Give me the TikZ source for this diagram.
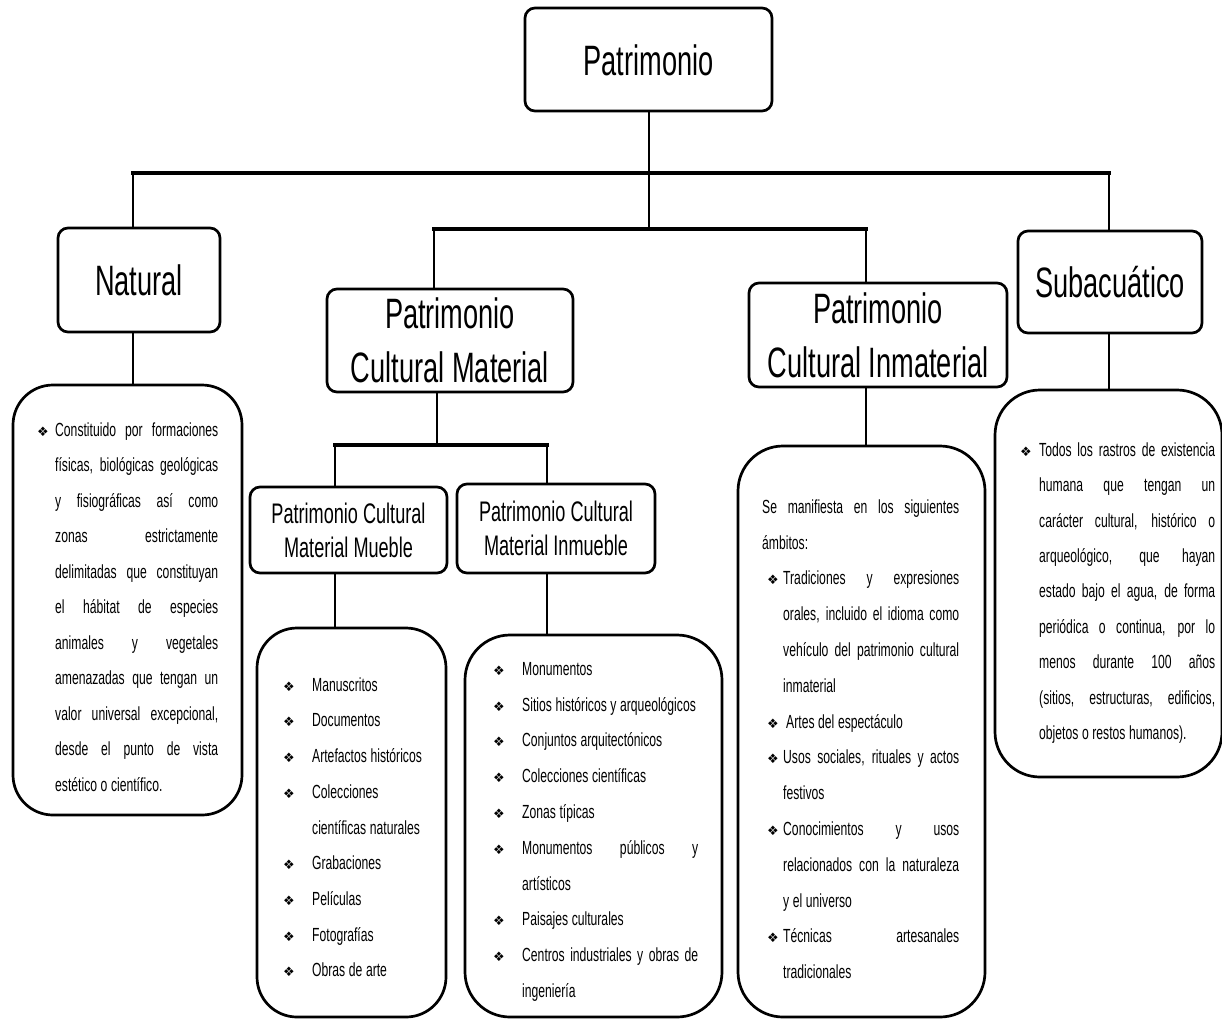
\documentclass[tikz,border=0pt]{standalone}
\usepackage{fontspec}
\setmainfont{Liberation Sans}[FakeStretch=0.64]
\newfontfamily\symf{DejaVu Sans}
\newlength\preW \newlength\indW \newlength\colW
\newcommand\bul{{\symf\fontsize{13}{13}\selectfont ❖}}
\newcommand\JS{\spaceskip=3.4pt plus 1fil\relax}
\newcommand\NS{\spaceskip=3.6pt\relax}
\newcommand\BJ[1]{\hspace*{\preW}\makebox[\indW][l]{\bul}\makebox[\colW][s]{\JS #1}}
\newcommand\BL[1]{\hspace*{\preW}\makebox[\indW][l]{\bul}\mbox{\NS #1}}
\newcommand\LJ[1]{\hspace*{\preW}\hspace*{\indW}\makebox[\colW][s]{\JS #1}}
\newcommand\LL[1]{\hspace*{\preW}\hspace*{\indW}\mbox{\NS #1}}
\newcommand\FS{\rule{0pt}{20pt}}
\tikzset{
  tbox/.style={draw, line width=2.7pt, rounded corners=10pt, inner sep=0pt},
  dbox/.style={draw, line width=2.7pt, rounded corners=40pt, inner sep=0pt},
  conn/.style={line width=2pt},
  bar/.style={line width=3.8pt, line cap=rect},
  barshadow/.style={line width=4pt, black!18, yshift=-3pt},
  big/.style={font=\fontsize{42.5}{54}\selectfont, text height=31pt, text depth=0pt},
  bigc/.style={font=\fontsize{42.5}{54}\selectfont, align=center},
  midc/.style={font=\fontsize{28.3}{34}\selectfont, align=center},
  txt/.style={anchor=north west, inner sep=0pt, align=left}
}
\begin{document}
\begin{tikzpicture}[x=1pt,y=-1pt]
\useasboundingbox (0,0) rectangle (1222,1020);
\fill[white] (0,0) rectangle (1222,1020);

% title boxes
\node[tbox, big, minimum width=247pt, minimum height=103pt] (root) at (648.5,59.5) {Patrimonio};
\node[tbox, big, minimum width=162pt, minimum height=104pt] (nat) at (139,280) {Natural};
\node[tbox, big, minimum width=184pt, minimum height=102pt] (sub) at (1110,282) {Subacuático};
\node[tbox, bigc, minimum width=246pt, minimum height=103pt] (pcm) at (450,340.5) {Patrimonio\\Cultural Material};
\node[tbox, bigc, minimum width=258pt, minimum height=104pt] (pci) at (878,335) {Patrimonio\\Cultural Inmaterial};
\node[tbox, midc, minimum width=197pt, minimum height=86pt] (pcmm) at (348.5,530) {Patrimonio Cultural\\Material Mueble};
\node[tbox, midc, minimum width=198pt, minimum height=89pt] (pcmi) at (556,528.5) {Patrimonio Cultural\\Material Inmueble};

% description boxes
\node[dbox, minimum width=229pt, minimum height=430pt] (natd) at (127.5,600) {};
\node[dbox, minimum width=189pt, minimum height=389pt] (pcmml) at (351.5,822.5) {};
\node[dbox, rounded corners=45pt, minimum width=257pt, minimum height=382pt] (pcmil) at (593.5,826) {};
\node[dbox, rounded corners=45pt, minimum width=247pt, minimum height=571pt] (pcid) at (861.5,731.5) {};
\node[dbox, rounded corners=45pt, minimum width=227pt, minimum height=387pt] (subd) at (1108.5,583.5) {};

% connectors
\coordinate (b1L) at (133,173);
\coordinate (b1R) at (1109,173);
\coordinate (b2L) at (434,229);
\coordinate (b2R) at (866,229);
\coordinate (b3L) at (335,445);
\coordinate (b3R) at (547,445);
\coordinate (b3M) at (437,445);

\draw[barshadow] (b1L) -- (b1R);
\draw[barshadow] (b2L) -- (b2R);
\draw[barshadow] (b3L) -- (b3R);
\draw[bar] (b1L) -- (b1R);
\draw[bar] (b2L) -- (b2R);
\draw[bar] (b3L) -- (b3R);
\draw[conn] (root.south) -- (root.south |- b2L);
\draw[conn] (b1L) -- (b1L |- nat.north);
\draw[conn] (b1R) -- (b1R |- sub.north);
\draw[conn] (b2L) -- (b2L |- pcm.north);
\draw[conn] (b2R) -- (b2R |- pci.north);
\draw[conn] (b3M |- pcm.south) -- (b3M);
\draw[conn] (b3L) -- (b3L |- pcmm.north);
\draw[conn] (b3R) -- (b3R |- pcmi.north);
\draw[conn] (b3L |- pcmm.south) -- (b3L |- pcmml.north);
\draw[conn] (b3R |- pcmi.south) -- (b3R |- pcmil.north);
\draw[conn] (b1L |- nat.south) -- (b1L |- natd.north);
\draw[conn] (b2R |- pci.south) -- (b2R |- pcid.north);
\draw[conn] (b1R |- sub.south) -- (b1R |- subd.north);

% texts
\node[txt, text width=181pt, font={\fontsize{19}{35.5}\selectfont}] (natT) at (37,416) {%
\setlength\preW{0pt}\setlength\indW{18pt}\setlength\colW{163pt}%
\FS\BJ{Constituido por formaciones}\\
\LJ{físicas, biológicas geológicas}\\
\LJ{y fisiográficas así como}\\
\LJ{zonas estrictamente}\\
\LJ{delimitadas que constituyan}\\
\LJ{el hábitat de especies}\\
\LJ{animales y vegetales}\\
\LJ{amenazadas que tengan un}\\
\LJ{valor universal excepcional,}\\
\LJ{desde el punto de vista}\\
\LL{estético o científico.}};

\node[txt, text width=160pt, font={\fontsize{19}{35.7}\selectfont}] (pcmmT) at (283,671) {%
\setlength\preW{0pt}\setlength\indW{29pt}\setlength\colW{131pt}%
\FS\BL{Manuscritos}\\
\BL{Documentos}\\
\BL{Artefactos históricos}\\
\BL{Colecciones}\\
\LL{científicas naturales}\\
\BL{Grabaciones}\\
\BL{Películas}\\
\BL{Fotografías}\\
\BL{Obras de arte}};

\node[txt, text width=205pt, font={\fontsize{19}{35.8}\selectfont}] (pcmiT) at (493,655) {%
\setlength\preW{0pt}\setlength\indW{29pt}\setlength\colW{176pt}%
\FS\BL{Monumentos}\\
\BL{Sitios históricos y arqueológicos}\\
\BL{Conjuntos arquitectónicos}\\
\BL{Colecciones científicas}\\
\BL{Zonas típicas}\\
\BJ{Monumentos públicos y}\\
\LL{artísticos}\\
\BL{Paisajes culturales}\\
\BJ{Centros industriales y obras de}\\
\LL{ingeniería}};

\node[txt, text width=197pt, font={\fontsize{19}{35.8}\selectfont}] (pciT) at (762,493) {%
\setlength\preW{5pt}\setlength\indW{16pt}\setlength\colW{176pt}%
\FS\makebox[197pt][s]{\JS Se manifiesta en los siguientes}\\
ámbitos:\\
\BJ{Tradiciones y expresiones}\\
\LJ{orales, incluido el idioma como}\\
\LJ{vehículo del patrimonio cultural}\\
\LL{inmaterial}\\
\BL{\hspace{3pt}Artes del espectáculo}\\
\BJ{Usos sociales, rituales y actos}\\
\LL{festivos}\\
\BJ{Conocimientos y usos}\\
\LJ{relacionados con la naturaleza}\\
\LL{y el universo}\\
\BJ{Técnicas artesanales}\\
\LL{tradicionales}};

\node[txt, text width=195pt, font={\fontsize{19}{35.4}\selectfont}] (subT) at (1020,436) {%
\setlength\preW{0pt}\setlength\indW{19pt}\setlength\colW{176pt}%
\FS\BJ{Todos los rastros de existencia}\\
\LJ{humana que tengan un}\\
\LJ{carácter cultural, histórico o}\\
\LJ{arqueológico, que hayan}\\
\LJ{estado bajo el agua, de forma}\\
\LJ{periódica o continua, por lo}\\
\LJ{menos durante 100 años}\\
\LJ{(sitios, estructuras, edificios,}\\
\LL{objetos o restos humanos).}};
\end{tikzpicture}
\end{document}
